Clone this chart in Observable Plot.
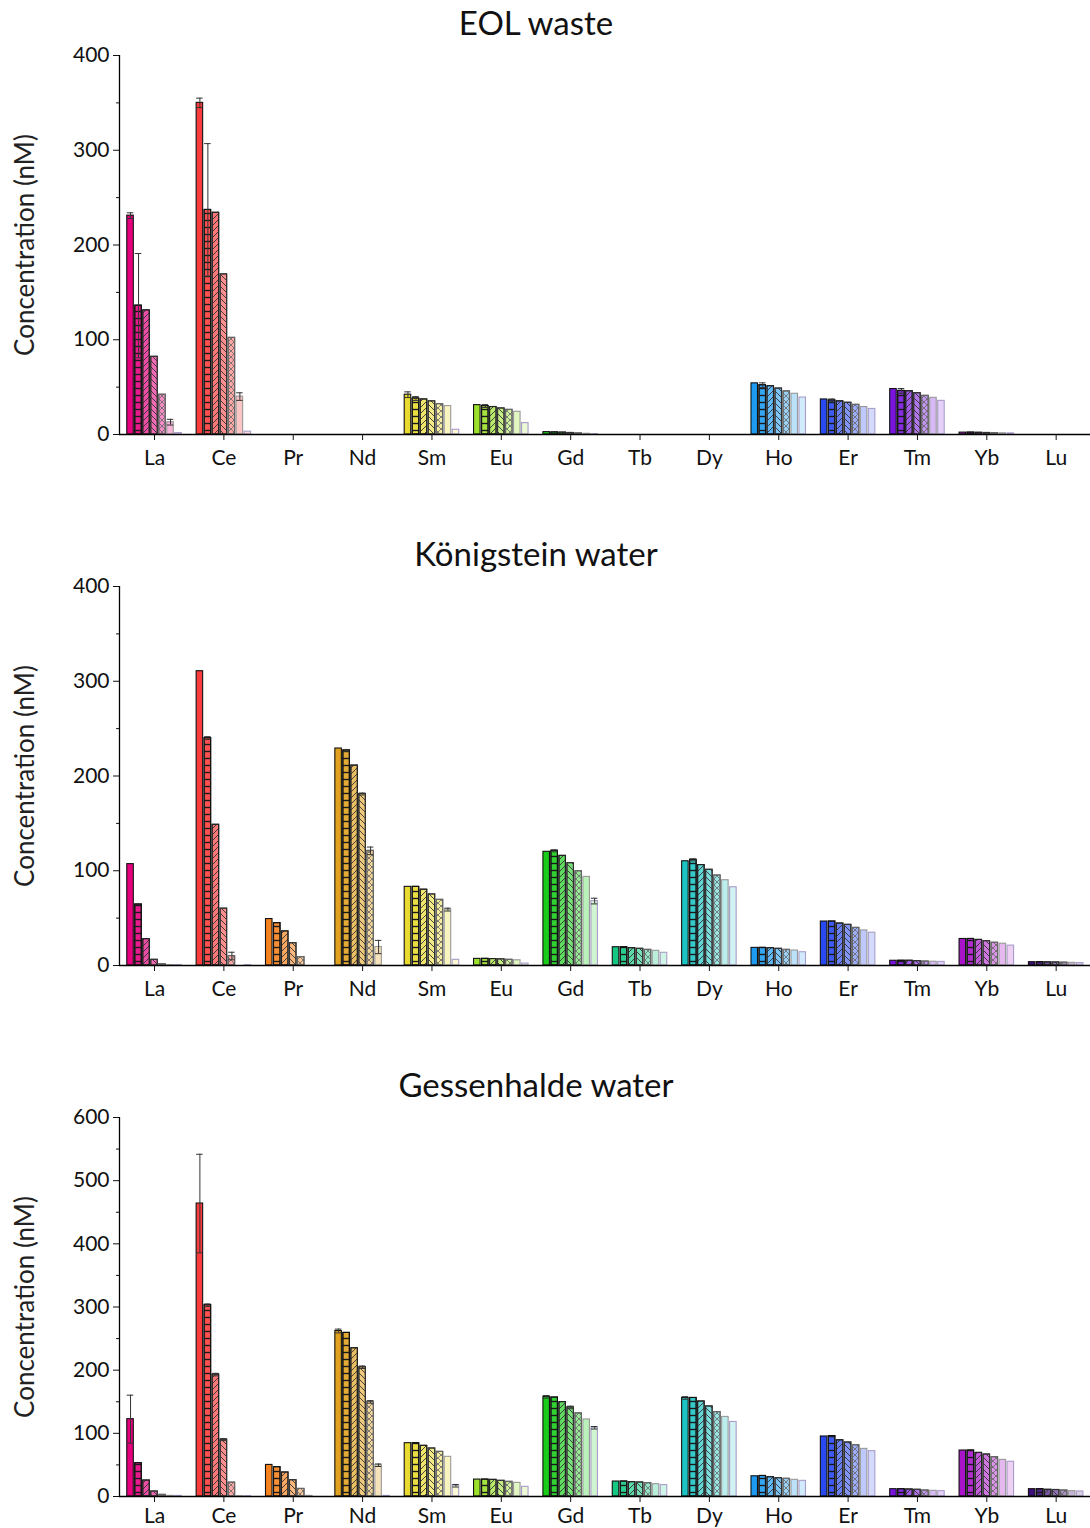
<!DOCTYPE html>
<html><head><meta charset="utf-8">
<script src="https://cdn.jsdelivr.net/npm/d3@7"></script>
<script src="https://cdn.jsdelivr.net/npm/@observablehq/plot@0.6"></script>
<style>
html,body{margin:0;padding:0;background:#fff;overflow:hidden;}
body{width:1090px;font-family:Lato,sans-serif;padding-top:2px;}
.title{height:40px;line-height:40px;font-size:33px;text-align:center;width:1072px;color:#111;}
svg.plot{display:block;}
</style></head><body>
<svg width="0" height="0" style="position:absolute">
<defs>
<pattern id="patH" patternUnits="userSpaceOnUse" width="8" height="7"><path d="M0 3.5H8" stroke="#1a1a1a" stroke-width="1.4"/></pattern>
<pattern id="patF" patternUnits="userSpaceOnUse" width="6" height="6"><path d="M0 6L6 0M-1 1L1 -1M5 7L7 5" stroke="#333" stroke-width="0.9"/></pattern>
<pattern id="patB" patternUnits="userSpaceOnUse" width="6" height="6"><path d="M0 0L6 6M-1 5L1 7M5 -1L7 1" stroke="#333" stroke-width="0.9"/></pattern>
<pattern id="patX" patternUnits="userSpaceOnUse" width="6" height="6"><path d="M0 6L6 0M-1 1L1 -1M5 7L7 5M0 0L6 6M-1 5L1 7M5 -1L7 1" stroke="#666" stroke-width="0.8"/></pattern>
</defs>
</svg>
<div id="charts"></div>
<script>
const elements = ["La","Ce","Pr","Nd","Sm","Eu","Gd","Tb","Dy","Ho","Er","Tm","Yb","Lu"];
const baseColors = ["#E6007E","#FA3C3C","#F5821F","#E0A21E","#E8DA2E","#9BE02C","#1ACC1A","#14C882","#1EC3C3","#1E9BF0","#2848F0","#7814DC","#A814C8","#3C0C78"];
const seriesLighten = [0, 0.1, 0.3, 0.42, 0.55, 0.7, 0.8];
const seriesStroke = ["#111","#111","#222","#333","#666","#999","#a89cc8"];
const seriesPattern = [null, "url(#patH)", "url(#patF)", "url(#patB)", "url(#patX)", null, null];

const eolValues = [
  [231, 136, 131, 82, 42, 13, 1.5],
  [350, 237, 234, 169, 102, 40, 3],
  [0, 0, 0, 0, 0, 0, 0],
  [0, 0, 0, 0, 0, 0, 0],
  [42, 38, 37, 35, 32, 30, 5],
  [31, 30, 29, 27.5, 26, 24, 12],
  [2.5, 2.2, 2, 1.6, 1.2, 0.8, 0.4],
  [0, 0, 0, 0, 0, 0, 0],
  [0, 0, 0, 0, 0, 0, 0],
  [54, 52, 51, 48.5, 45.5, 43, 39],
  [37, 36, 35, 33.5, 31.3, 29, 27],
  [48, 46, 45.7, 43.6, 40.8, 38.7, 35.5],
  [2, 2, 1.8, 1.6, 1.5, 1.3, 1.2],
  [0, 0, 0, 0, 0, 0, 0]
];
const eolErrors = [[0,0,3],[0,1,55],[0,5,3],[1,0,5],[1,1,70],[1,5,4],[4,0,3],[4,1,2],[5,1,1.5],[9,1,2.5],[10,1,1.5],[11,1,2.5]];

const konValues = [
  [107, 64.4, 27.8, 6, 1.4, 0.5, 0.5],
  [310.6, 240, 148.5, 60, 10, 0, 0.3],
  [49, 44.7, 36, 23.5, 8.8, 0, 0],
  [229, 227, 211, 181, 121, 19.5, 0],
  [83, 83, 80, 75, 69.3, 59, 6],
  [7, 7, 6.8, 6.5, 6, 5.5, 2],
  [120, 121, 115.7, 108, 99.5, 93.5, 68],
  [19.3, 19.3, 18.3, 17.6, 16.5, 15.5, 13.4],
  [110, 111.5, 106, 101, 95, 90, 82.6],
  [18.6, 18.6, 18.3, 17.6, 16.5, 15.8, 14],
  [46.4, 46.4, 44.3, 42.9, 39.7, 37, 34.6],
  [5, 5, 5, 4.6, 4.2, 4, 3.8],
  [28, 28, 27, 25.7, 24, 23, 21],
  [3.5, 3.5, 3.3, 3.2, 3, 2.8, 2.6]
];
const konErrors = [[1,1,1.5],[1,4,4],[3,1,1],[3,3,1],[3,4,4],[3,5,7],[4,5,1.5],[6,1,1],[6,6,3],[8,1,1]];

const gesValues = [
  [122.4, 52.8, 25.3, 7.9, 2.6, 1, 1],
  [463.8, 302.9, 193, 90, 22, 0.5, 0.5],
  [50, 46.4, 38, 25.8, 12, 1, 0],
  [262, 259, 234.7, 204.6, 149.8, 49.5, 1],
  [84.4, 84.4, 80.2, 76, 70.7, 62.8, 17],
  [26.8, 26.8, 26.3, 24.8, 23.2, 21.6, 15.3],
  [157.8, 156.7, 149.4, 141, 131.6, 122, 108.8],
  [23.7, 23.7, 22.7, 22.2, 21.1, 19.5, 18],
  [156, 156, 150.4, 142.6, 133.6, 126, 118],
  [32, 32.5, 30.6, 29, 28, 26.4, 24.8],
  [95, 95.7, 89, 85.5, 81.2, 75.4, 71.8],
  [11.6, 11.6, 11.1, 10.6, 9.5, 9, 8.5],
  [72.8, 72.8, 69, 66.5, 62.3, 58, 55],
  [11.6, 11.6, 10.6, 10.3, 9.5, 8.5, 8]
];
const gesErrors = [[0,0,38],[1,0,78],[1,1,2],[1,2,2],[1,3,1.5],[3,0,3],[3,3,2],[3,4,2],[3,5,2],[6,0,2],[6,3,2],[6,6,2],[8,0,2],[4,6,2]];

const step = 0.1153, barW = 0.094;
const xDomain = [-0.505, 13.495];

function panel(title, values, errors, yMax, height, marginBottom, xPad) {
  const data = [];
  values.forEach((row, i) => row.forEach((v, s) => data.push({
    i, s, v,
    xc: i + (s - 3) * step,
    fill: d3.interpolateRgb(baseColors[i], "#fff")(seriesLighten[s]),
    stroke: seriesStroke[s]
  })));
  const errs = errors.map(([i, s, e]) => ({i, s, e, v: values[i][s], xc: i + (s - 3) * step}));
  const marks = [
    Plot.rect(data.filter(d => d.v > 0), {x1: d => d.xc - barW/2, x2: d => d.xc + barW/2, y1: 0, y2: "v", fill: "fill", stroke: "stroke", strokeWidth: 1.1})
  ];
  [1,2,3,4].forEach(s => {
    marks.push(Plot.rect(data.filter(d => d.s === s && d.v > 0), {x1: d => d.xc - barW/2, x2: d => d.xc + barW/2, y1: 0, y2: "v", fill: seriesPattern[s], stroke: "stroke", strokeWidth: 1.1}));
  });
  marks.push(
    Plot.ruleX(errs, {x: "xc", y1: d => Math.max(0, d.v - d.e), y2: d => d.v + d.e, stroke: "#333", strokeWidth: 1}),
    Plot.ruleY(errs, {y: d => d.v + d.e, x1: d => d.xc - barW/2, x2: d => d.xc + barW/2, stroke: "#333", strokeWidth: 1}),
    Plot.ruleY(errs.filter(d => d.v - d.e > 0), {y: d => d.v - d.e, x1: d => d.xc - barW/2, x2: d => d.xc + barW/2, stroke: "#333", strokeWidth: 1}),
    Plot.ruleY([0], {stroke: "#000", strokeWidth: 1.6}),
    Plot.ruleX([xDomain[0]], {stroke: "#000", strokeWidth: 1.3}),
    Plot.axisY({ticks: d3.range(0, yMax + 1, 100), tickSize: 6, tickPadding: 4, label: null, fontSize: 21}),
    Plot.axisY({ticks: d3.range(50, yMax, 100), tickSize: 3, tickFormat: () => "", label: null}),
    Plot.axisX({ticks: d3.range(0, 14), tickFormat: i => elements[i], tickSize: 6, tickPadding: xPad, label: null, fontSize: 21}),
    Plot.text(["Concentration (nM)"], {frameAnchor: "left", textAnchor: "middle", lineAnchor: "middle", rotate: -90, dx: -94, fontSize: 26, fill: "#222"})
  );
  const chart = Plot.plot({
    width: 1090, height,
    marginLeft: 119, marginRight: 0, marginTop: 13, marginBottom,
    x: {domain: xDomain, axis: null},
    y: {domain: [0, yMax], axis: null},
    color: {type: "identity"},
    style: {fontFamily: "Lato, sans-serif", fontSize: "21px", color: "#111", background: "#fff"},
    marks
  });
  chart.classList.add("plot");
  const t = document.createElement("div");
  t.className = "title";
  t.textContent = title;
  const root = document.getElementById("charts");
  root.appendChild(t);
  root.appendChild(chart);
}
panel("EOL waste", eolValues, eolErrors, 400, 491, 99, 10);
panel("Königstein water", konValues, konErrors, 400, 491, 99, 10);
panel("Gessenhalde water", gesValues, gesErrors, 600, 424, 32, 6);
</script>
</body></html>
